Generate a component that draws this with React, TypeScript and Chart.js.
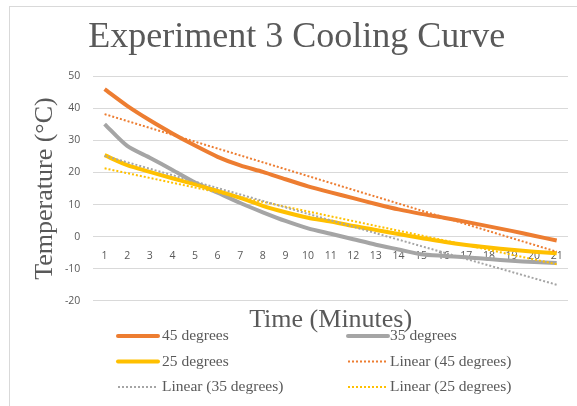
import React, { useEffect, useRef } from "react";
import { Chart, registerables } from "chart.js";

Chart.register(...registerables);

// ---- data ----
const minutes = ["1","2","3","4","5","6","7","8","9","10","11","12","13","14","15","16","17","18","19","20","21"];
const temp45 = [46, 40.8, 36.3, 32.2, 28.4, 24.9, 22.2, 20.2, 17.9, 15.7, 13.8, 12.0, 10.2, 8.5, 7.1, 5.9, 4.6, 3.2, 1.8, 0.3, -1.2];
const temp35 = [35.1, 28.3, 24.6, 20.8, 16.9, 13.7, 10.5, 7.6, 4.9, 2.6, 0.9, -0.8, -2.5, -4.0, -5.5, -6.0, -6.4, -7.0, -7.5, -7.9, -8.2];
const temp25 = [25.4, 22.3, 20.2, 18.2, 16.3, 14.3, 12.1, 9.6, 7.6, 5.9, 4.7, 3.3, 2.1, 0.8, -0.4, -1.6, -2.6, -3.4, -4.1, -4.7, -5.2];
// linear trendline values at minute 1 and minute 21
const linear45 = [38.2, -4.7];
const linear35 = [25.2, -15.0];
const linear25 = [21.3, -8.6];
const yMin = -20;
const yMax = 50;
const yStep = 10;

const ORANGE = "#ED7D31";
const GREY = "#A5A5A5";
const YELLOW = "#FFC000";
const TEXT = "#595959";

function trend(ends: number[]) {
  return minutes.map((_, i) => (i === 0 ? ends[0] : i === minutes.length - 1 ? ends[1] : null));
}

const gridLegend = {
  id: "gridLegend",
  afterDraw(chart: any) {
    const ctx = chart.ctx;
    const cols = [
      { line: 118, text: 162 },
      { line: 348, text: 390 },
    ];
    const rows = [336, 361.5, 387];
    ctx.save();
    ctx.font = '15.5px "Liberation Serif"';
    ctx.textBaseline = "middle";
    ctx.textAlign = "left";
    chart.data.datasets.forEach((ds: any, i: number) => {
      const c = cols[i % 2];
      const y = rows[Math.floor(i / 2)];
      ctx.beginPath();
      ctx.strokeStyle = ds.borderColor;
      ctx.lineWidth = ds.borderDash ? 2 : 4;
      ctx.lineCap = ds.borderDash ? "butt" : "round";
      ctx.setLineDash(ds.borderDash || []);
      ctx.moveTo(c.line, y);
      ctx.lineTo(c.line + 40, y);
      ctx.stroke();
      ctx.setLineDash([]);
      ctx.fillStyle = TEXT;
      ctx.fillText(ds.label, c.text, y);
    });
    ctx.restore();
  },
};

export default function App() {
  const ref = useRef<HTMLCanvasElement | null>(null);

  useEffect(() => {
    if (!ref.current) return;
    const solid = (label: string, data: number[], color: string, order: number) => ({
      label,
      data,
      borderColor: color,
      backgroundColor: color,
      borderWidth: 4,
      pointRadius: 0,
      tension: 0.25,
      xAxisID: "x",
      yAxisID: "y",
      order,
    });
    const dotted = (label: string, data: (number | null)[], color: string) => ({
      label,
      data,
      borderColor: color,
      backgroundColor: color,
      borderWidth: 2,
      borderDash: [2, 2],
      pointRadius: 0,
      spanGaps: true,
      xAxisID: "x",
      yAxisID: "y",
      order: 0,
    });

    const chart = new Chart(ref.current, {
      type: "line",
      data: {
        labels: minutes,
        datasets: [
          solid("45 degrees", temp45, ORANGE, 3),
          solid("35 degrees", temp35, GREY, 2),
          solid("25 degrees", temp25, YELLOW, 1),
          dotted("Linear (45 degrees)", trend(linear45), ORANGE),
          dotted("Linear (35 degrees)", trend(linear35), GREY),
          dotted("Linear (25 degrees)", trend(linear25), YELLOW),
        ] as any,
      },
      options: {
        animation: false,
        responsive: false,
        devicePixelRatio: 1,
        layout: { padding: { left: 25.4, right: 9, top: 0, bottom: 66 } },
        plugins: {
          legend: { display: false },
          tooltip: { enabled: false },
          title: {
            display: true,
            text: "Experiment 3 Cooling Curve",
            color: TEXT,
            font: { family: '"Liberation Serif"', size: 36, weight: "normal", lineHeight: 1.2 },
            padding: { top: 16.4, bottom: 16.7 },
          },
        },
        scales: {
          x: {
            type: "category",
            position: { y: 0 } as any,
            offset: true,
            grid: { display: false, drawTicks: false },
            border: { display: false },
            ticks: {
              color: TEXT,
              font: { family: '"Open Sans"', size: 10.5 },
              padding: 13,
              maxRotation: 0,
              autoSkip: false,
            },
          },
          x2: {
            type: "category",
            position: "bottom",
            grid: { display: false, drawTicks: false },
            border: { display: false },
            ticks: { display: false },
            title: {
              display: true,
              text: "Time (Minutes)",
              color: TEXT,
              font: { family: '"Liberation Serif"', size: 26, lineHeight: 1.2 },
              padding: { top: 4, bottom: 4 },
            },
          },
          y: {
            min: yMin,
            max: yMax,
            grid: { color: "#D9D9D9", drawTicks: false, lineWidth: 1 },
            border: { display: false },
            ticks: {
              stepSize: yStep,
              color: TEXT,
              font: { family: '"Open Sans"', size: 10.5 },
              padding: 13,
            },
            title: {
              display: true,
              text: "Temperature (°C)",
              color: TEXT,
              font: { family: '"Liberation Serif"', size: 26, lineHeight: 1.2 },
              padding: { top: 4, bottom: 4 },
            },
            afterFit: (s: any) => {
              s.width = 67.9;
            },
          },
        },
      } as any,
      plugins: [gridLegend],
    });
    return () => chart.destroy();
  }, []);

  return (
    <div style={{ position: "fixed", left: 0, top: 0, width: 577, height: 406, overflow: "hidden", background: "#fff" }}>
      <div
        style={{
          position: "absolute",
          left: 9,
          top: 6,
          width: 620,
          height: 440,
          border: "1px solid #D9D9D9",
          boxSizing: "border-box",
        }}
      />
      <canvas ref={ref} width={577} height={406} style={{ position: "absolute", left: 0, top: 0, width: 577, height: 406 }} />
    </div>
  );
}
